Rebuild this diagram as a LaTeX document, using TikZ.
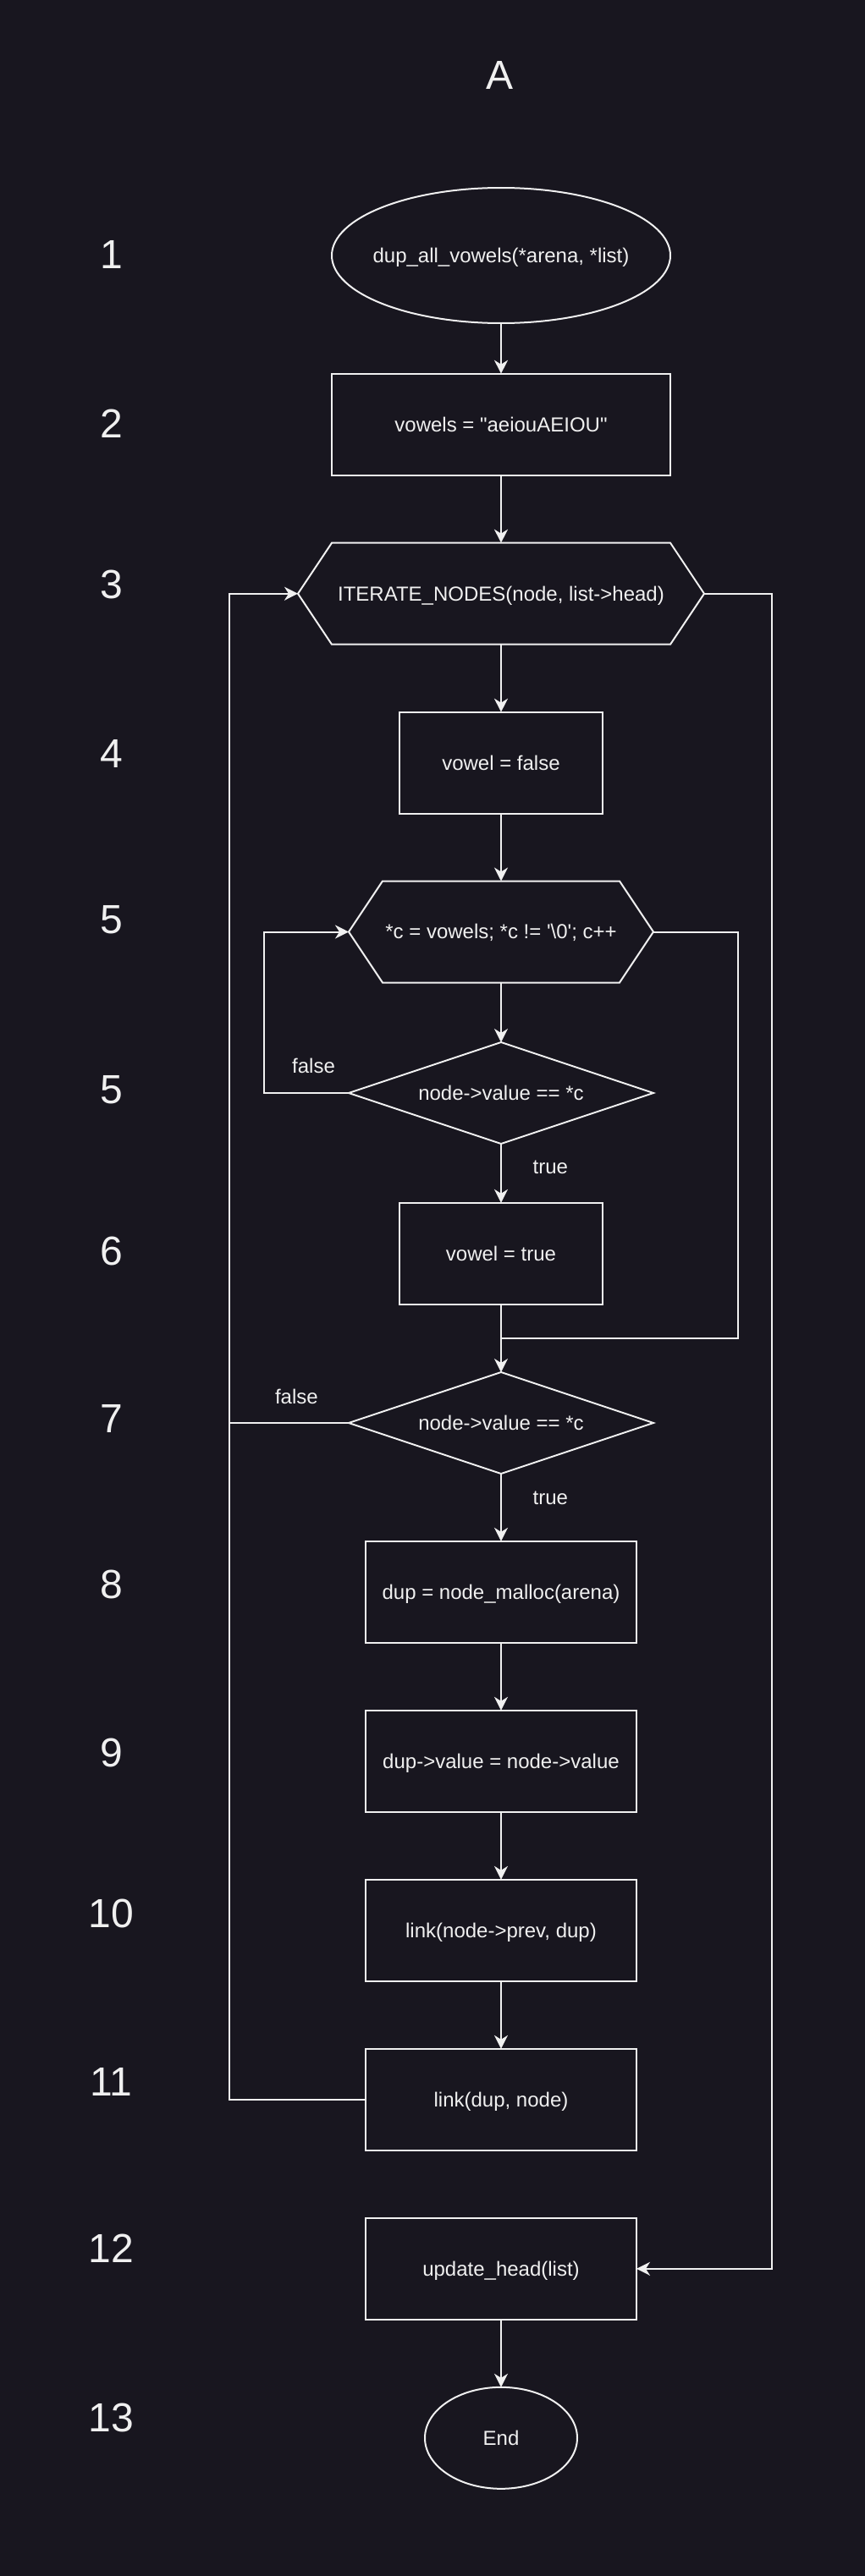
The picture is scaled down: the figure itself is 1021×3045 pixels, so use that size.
\documentclass[tikz,border=0pt]{standalone}
\usepackage{fontspec}
\setmainfont{Liberation Sans}[Ligatures=TeXOff]
\usetikzlibrary{arrows.meta}
\definecolor{bg}{HTML}{18161F}
\definecolor{fg}{HTML}{F0F0F0}
\begin{document}
\begin{tikzpicture}[x=1pt,y=-1pt,
  every node/.style={text=fg, inner sep=0pt, outer sep=0pt},
  txt/.style={font=\fontsize{24}{28.8}\selectfont, text height=22.7pt, text depth=6.1pt, align=center},
  lbl/.style={font=\fontsize{24}{28.8}\selectfont},
  numlbl/.style={font=\fontsize{48}{57.6}\selectfont, anchor=base},
  procbox/.style={txt, draw=fg, line width=2pt, rectangle, minimum height=120pt},
  shapebox/.style={txt, minimum height=120pt},
  conn/.style={draw=fg, line width=2pt},
  arr/.style={conn, -{Stealth[length=16pt,width=16pt,inset=5pt]}}
]
\useasboundingbox (0,0) rectangle (1021,3045);
\fill[bg] (-5,-5) rectangle (1026,3050);

% title
\node[font=\fontsize{48}{57.6}\selectfont] (title) at (591,89.3) {A};

% row numbers
\node[numlbl] (r1) at (131.5,317.3) {1};
\node[numlbl] (r2) at (131.5,517.8) {2};
\node[numlbl] (r3) at (131.5,707.7) {3};
\node[numlbl] (r4) at (131.5,907.6) {4};
\node[numlbl] (r5) at (131.5,1103) {5};
\node[numlbl] (r5b) at (131.5,1304) {5};
\node[numlbl] (r6) at (131.5,1495.5) {6};
\node[numlbl] (r7) at (131.5,1693.6) {7};
\node[numlbl] (r8) at (131.5,1889) {8};
\node[numlbl] (r9) at (131.5,2088) {9};
\node[numlbl] (r10) at (131.5,2278) {10};
\node[numlbl] (r11) at (131.5,2477) {11};
\node[numlbl] (r12) at (131.5,2674) {12};
\node[numlbl] (r13) at (131.5,2874) {13};

% 1 start ellipse
\node[txt, minimum width=400pt, minimum height=160pt] (n1) at (592,302) {dup\_all\_vowels(*arena, *list)};
\draw[conn] (n1.center) ellipse [x radius=200pt, y radius=80pt];

% 2
\node[procbox, minimum width=400pt] (n2) at (592,501.7) {vowels = "aeiouAEIOU"};

% 3 hexagon
\node[shapebox, minimum width=480pt] (n3) at (592,701.7) {ITERATE\_NODES(node, list->head)};
\draw[conn] ([xshift=40pt]n3.north west) -- ([xshift=-40pt]n3.north east) -- (n3.east)
  -- ([xshift=-40pt]n3.south east) -- ([xshift=40pt]n3.south west) -- (n3.west) -- cycle;

% 4
\node[procbox, minimum width=240pt] (n4) at (592,901.7) {vowel = false};

% 5 hexagon
\node[shapebox, minimum width=360pt] (n5) at (592,1101.5) {*c = vowels; *c != '\textbackslash 0'; c++};
\draw[conn] ([xshift=40pt]n5.north west) -- ([xshift=-40pt]n5.north east) -- (n5.east)
  -- ([xshift=-40pt]n5.south east) -- ([xshift=40pt]n5.south west) -- (n5.west) -- cycle;

% 5 diamond
\node[shapebox, minimum width=360pt] (n5b) at (592,1292) {node->value == *c};
\draw[conn] (n5b.north) -- (n5b.east) -- (n5b.south) -- (n5b.west) -- cycle;

% 6
\node[procbox, minimum width=240pt] (n6) at (592,1481.8) {vowel = true};

% 7 diamond
\node[shapebox, minimum width=360pt] (n7) at (592,1682) {node->value == *c};
\draw[conn] (n7.north) -- (n7.east) -- (n7.south) -- (n7.west) -- cycle;

% 8-12
\node[procbox, minimum width=320pt] (n8) at (592,1881.8) {dup = node\_malloc(arena)};
\node[procbox, minimum width=320pt] (n9) at (592,2081.8) {dup->value = node->value};
\node[procbox, minimum width=320pt] (n10) at (592,2281.8) {link(node->prev, dup)};
\node[procbox, minimum width=320pt] (n11) at (592,2481.8) {link(dup, node)};
\node[procbox, minimum width=320pt] (n12) at (592,2681.8) {update\_head(list)};

% 13 end ellipse
\node[txt, minimum width=180pt, minimum height=120pt] (n13) at (592,2881.8) {End};
\draw[conn] (n13.center) ellipse [x radius=90pt, y radius=60pt];

% labels
\node[lbl] (f1) at (370.5,1260.2) {false};
\node[lbl] (t1) at (650.4,1380) {true};
\node[lbl] (f2) at (350.4,1650.5) {false};
\node[lbl] (t2) at (650.4,1770.4) {true};

% connectors
\coordinate (j1) at (592,1581.8);
\coordinate (c7) at (271.4,1682);

\draw[arr] (n1.south) -- (n2.north);
\draw[arr] (n2.south) -- (n3.north);
\draw[arr] (n3.south) -- (n4.north);
\draw[arr] (n4.south) -- (n5.north);
\draw[arr] (n5.south) -- (n5b.north);
\draw[arr] (n5b.south) -- (n6.north);
\draw[arr] (n5b.west) -- ++(-100.4,0) |- (n5.west);
\draw[conn] (n5.east) -- ++(100,0) |- (j1);
\draw[arr] (n6.south) -- (n7.north);
\draw[conn] (n7.west) -- (c7);
\draw[arr] (n7.south) -- (n8.north);
\draw[arr] (n8.south) -- (n9.north);
\draw[arr] (n9.south) -- (n10.north);
\draw[arr] (n10.south) -- (n11.north);
\draw[arr] (n11.west) -- ++(-160.6,0) |- (n3.west);
\draw[arr] (n3.east) -- ++(80,0) |- (n12.east);
\draw[arr] (n12.south) -- (n13.south |- n13.north);
\end{tikzpicture}
\end{document}
